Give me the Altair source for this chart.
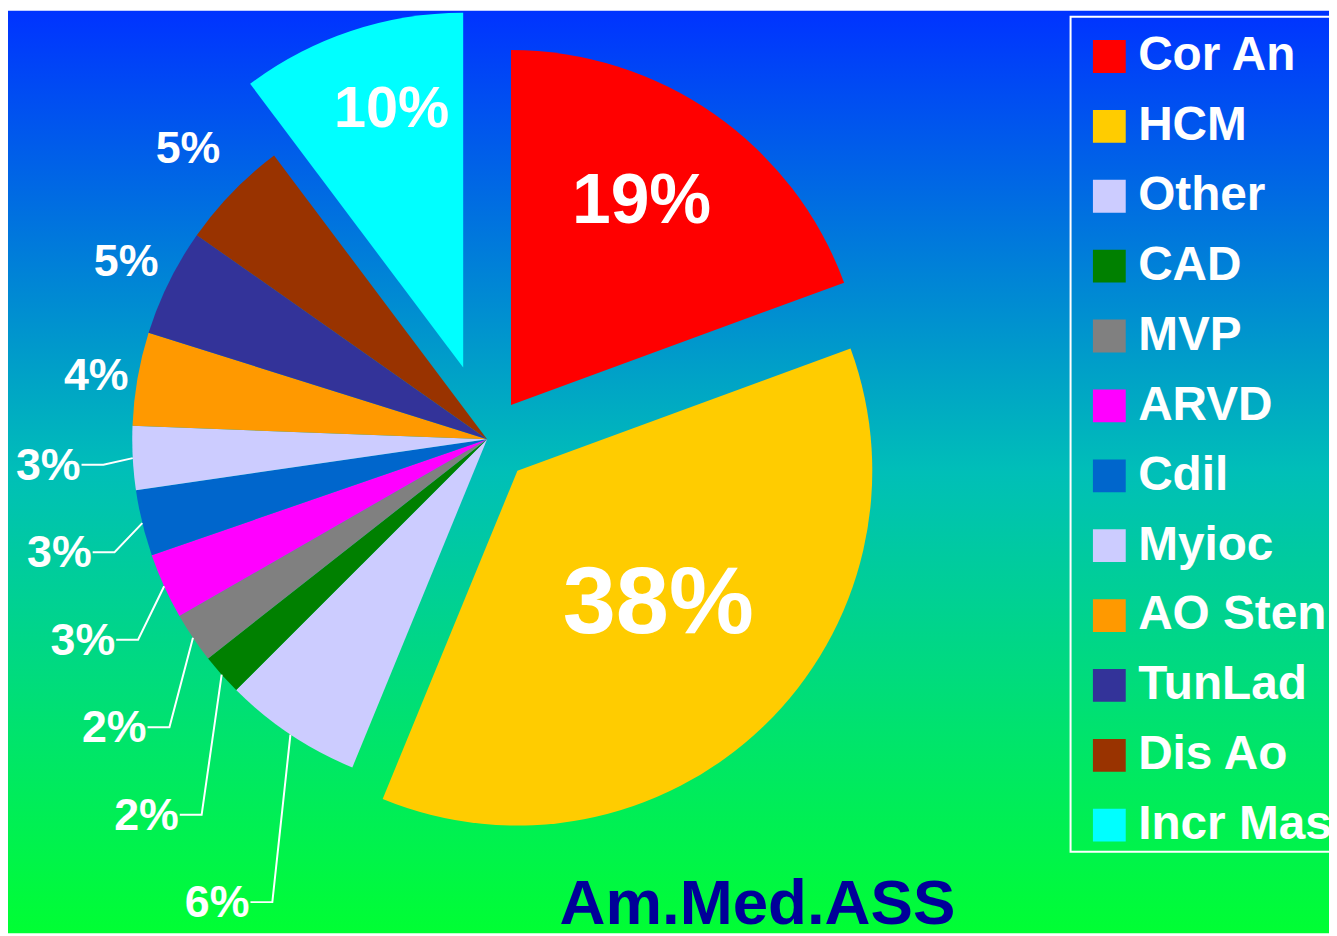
import math
import numpy as np
import pandas as pd
import altair as alt

# ---------------- data ----------------
categories = ["Cor An", "HCM", "Other", "CAD", "MVP", "ARVD", "Cdil",
              "Myioc", "AO Sten", "TunLad", "Dis Ao", "Incr Mas"]
values = [19.4, 36.8, 6.3, 1.9, 2.3, 3.0, 3.0, 2.9, 4.25, 4.9, 5.0, 10.25]
pct_labels = ["19%", "38%", "6%", "2%", "2%", "3%", "3%", "3%",
              "4%", "5%", "5%", "10%"]
title_text = ["Am.Med.ASS"]

# ---------------- styles / layout ----------------
colors = ["#FF0000", "#FFCC00", "#CCCCFF", "#008000", "#808080", "#FF00FF",
          "#0066CC", "#CCCCFF", "#FF9900", "#333399", "#993300", "#00FFFF"]
explode = [42, 44, 0, 0, 0, 0, 0, 0, 0, 0, 0, 76]
label_kind = ["in", "in", "lead", "lead", "lead", "lead", "lead", "lead",
              "out", "out", "out", "in"]
label_radius = [243, 194, 0, 0, 0, 0, 0, 0, 399, 405, 419, 270]
label_shift_deg = [-2.2, -3.0, 0, 0, 0, 0, 0, 0, 0, 0, 0, 3.0]
label_dy = [0, 2, 0, 0, 0, 0, 0, 0, 4, 1, 0, 1]
label_size = [70, 96, 45, 45, 45, 45, 45, 45, 45, 45, 45, 58]

W, H = 1329, 928
CX, CY, R = 482, 431, 357
FONT = "Liberation Sans"
LEAD_STEP = 88

# ---------------- geometry from values ----------------
vals = np.array(values, dtype=float)
tot = vals.sum()
f1 = np.cumsum(vals) / tot
f0 = f1 - vals / tot
mid = (f0 + f1) * math.pi
ex = np.array(explode, dtype=float)
cx = CX + ex * np.sin(mid)
cy = CY - ex * np.cos(mid)

arc_df = pd.DataFrame({"cat": categories, "f0": f0, "f1": f1, "cx": cx, "cy": cy})

txt_rows, lead_rows, line_rows = [], [], []
for i, kind in enumerate(label_kind):
    if kind in ("in", "out"):
        r = label_radius[i]
        a = mid[i] + math.radians(label_shift_deg[i])
        txt_rows.append({"label": pct_labels[i],
                         "lx": cx[i] + r * math.sin(a),
                         "ly": cy[i] - r * math.cos(a) + label_dy[i],
                         "fs": label_size[i]})

lead_idx = sorted([i for i, k in enumerate(label_kind) if k == "lead"],
                  key=lambda i: -mid[i])
prev = -1e9
for i in lead_idx:
    ex_x = CX + R * math.sin(mid[i])
    ex_y = CY - R * math.cos(mid[i])
    nat_y = CY - (R + 50) * math.cos(mid[i]) + 4
    ly = max(nat_y, prev + LEAD_STEP)
    prev = ly
    elbow_x = ex_x - 30 + 0.07 * (ly - ex_y)
    right_x = elbow_x - 23
    lead_rows.append({"label": pct_labels[i], "lx": right_x, "ly": ly + 1,
                      "fs": label_size[i]})
    for j, (px, py) in enumerate([(right_x + 1, ly), (elbow_x, ly), (ex_x, ex_y)]):
        line_rows.append({"cat": categories[i], "j": j, "px": px, "py": py})

txt_df = pd.DataFrame(txt_rows)
lead_df = pd.DataFrame(lead_rows)
line_df = pd.DataFrame(line_rows)

one = pd.DataFrame({"k": [0]})

# ---------------- chart ----------------
background = alt.Chart(one).mark_rect(
    color=alt.LinearGradient(
        gradient="linear",
        stops=[alt.GradientStop(color="#0033FF", offset=0),
               alt.GradientStop(color="#00BFB8", offset=0.5),
               alt.GradientStop(color="#00FF33", offset=1)],
        x1=0, x2=0, y1=0, y2=1)
).encode(x=alt.value(0), x2=alt.value(W), y=alt.value(0), y2=alt.value(H))

legend_frame = alt.Chart(one).mark_rect(
    fillOpacity=0, stroke="white", strokeWidth=2
).encode(x=alt.value(1069), x2=alt.value(W + 20), y=alt.value(6), y2=alt.value(846))

arcs = alt.Chart(arc_df).mark_arc(radius=R, strokeWidth=0).encode(
    theta=alt.Theta("f0:Q", stack=False,
                    scale=alt.Scale(domain=[0, 1], range=[0, 2 * math.pi])),
    theta2="f1:Q",
    x=alt.X("cx:Q", scale=None),
    y=alt.Y("cy:Q", scale=None),
    color=alt.Color(
        "cat:N",
        sort=categories,
        scale=alt.Scale(domain=categories, range=colors),
        legend=alt.Legend(
            title=None, orient="none", legendX=1084, legendY=22,
            symbolType="square", symbolSize=1089, symbolStrokeWidth=0,
            labelFont=FONT, labelFontWeight="bold", labelFontSize=48,
            labelColor="white", labelLimit=400, labelOffset=5,
            rowPadding=22.3, padding=0,
        ),
    ),
)

lines = alt.Chart(line_df).mark_line(color="white", strokeWidth=2).encode(
    x=alt.X("px:Q", scale=None), y=alt.Y("py:Q", scale=None),
    detail="cat:N", order="j:O")

texts = alt.Chart(txt_df).mark_text(
    font=FONT, fontWeight="bold", color="white", align="center", baseline="middle"
).encode(x=alt.X("lx:Q", scale=None), y=alt.Y("ly:Q", scale=None),
         text="label:N", size=alt.Size("fs:Q", scale=None))

lead_texts = alt.Chart(lead_df).mark_text(
    font=FONT, fontWeight="bold", color="white", align="right", baseline="middle"
).encode(x=alt.X("lx:Q", scale=None), y=alt.Y("ly:Q", scale=None),
         text="label:N", size=alt.Size("fs:Q", scale=None))

title = alt.Chart(pd.DataFrame({"t": title_text})).mark_text(
    font=FONT, fontWeight="bold", color="#000099", fontSize=64,
    align="center", baseline="alphabetic"
).encode(x=alt.value(754), y=alt.value(919), text="t:N")

chart = alt.layer(background, legend_frame, arcs, lines, texts, lead_texts, title).properties(
    width=W, height=H,
    autosize=alt.AutoSizeParams(type="none"),
    padding=0,
).configure_view(strokeWidth=0)

chart.save("out.html", embed_options={"renderer": "svg", "actions": False})
